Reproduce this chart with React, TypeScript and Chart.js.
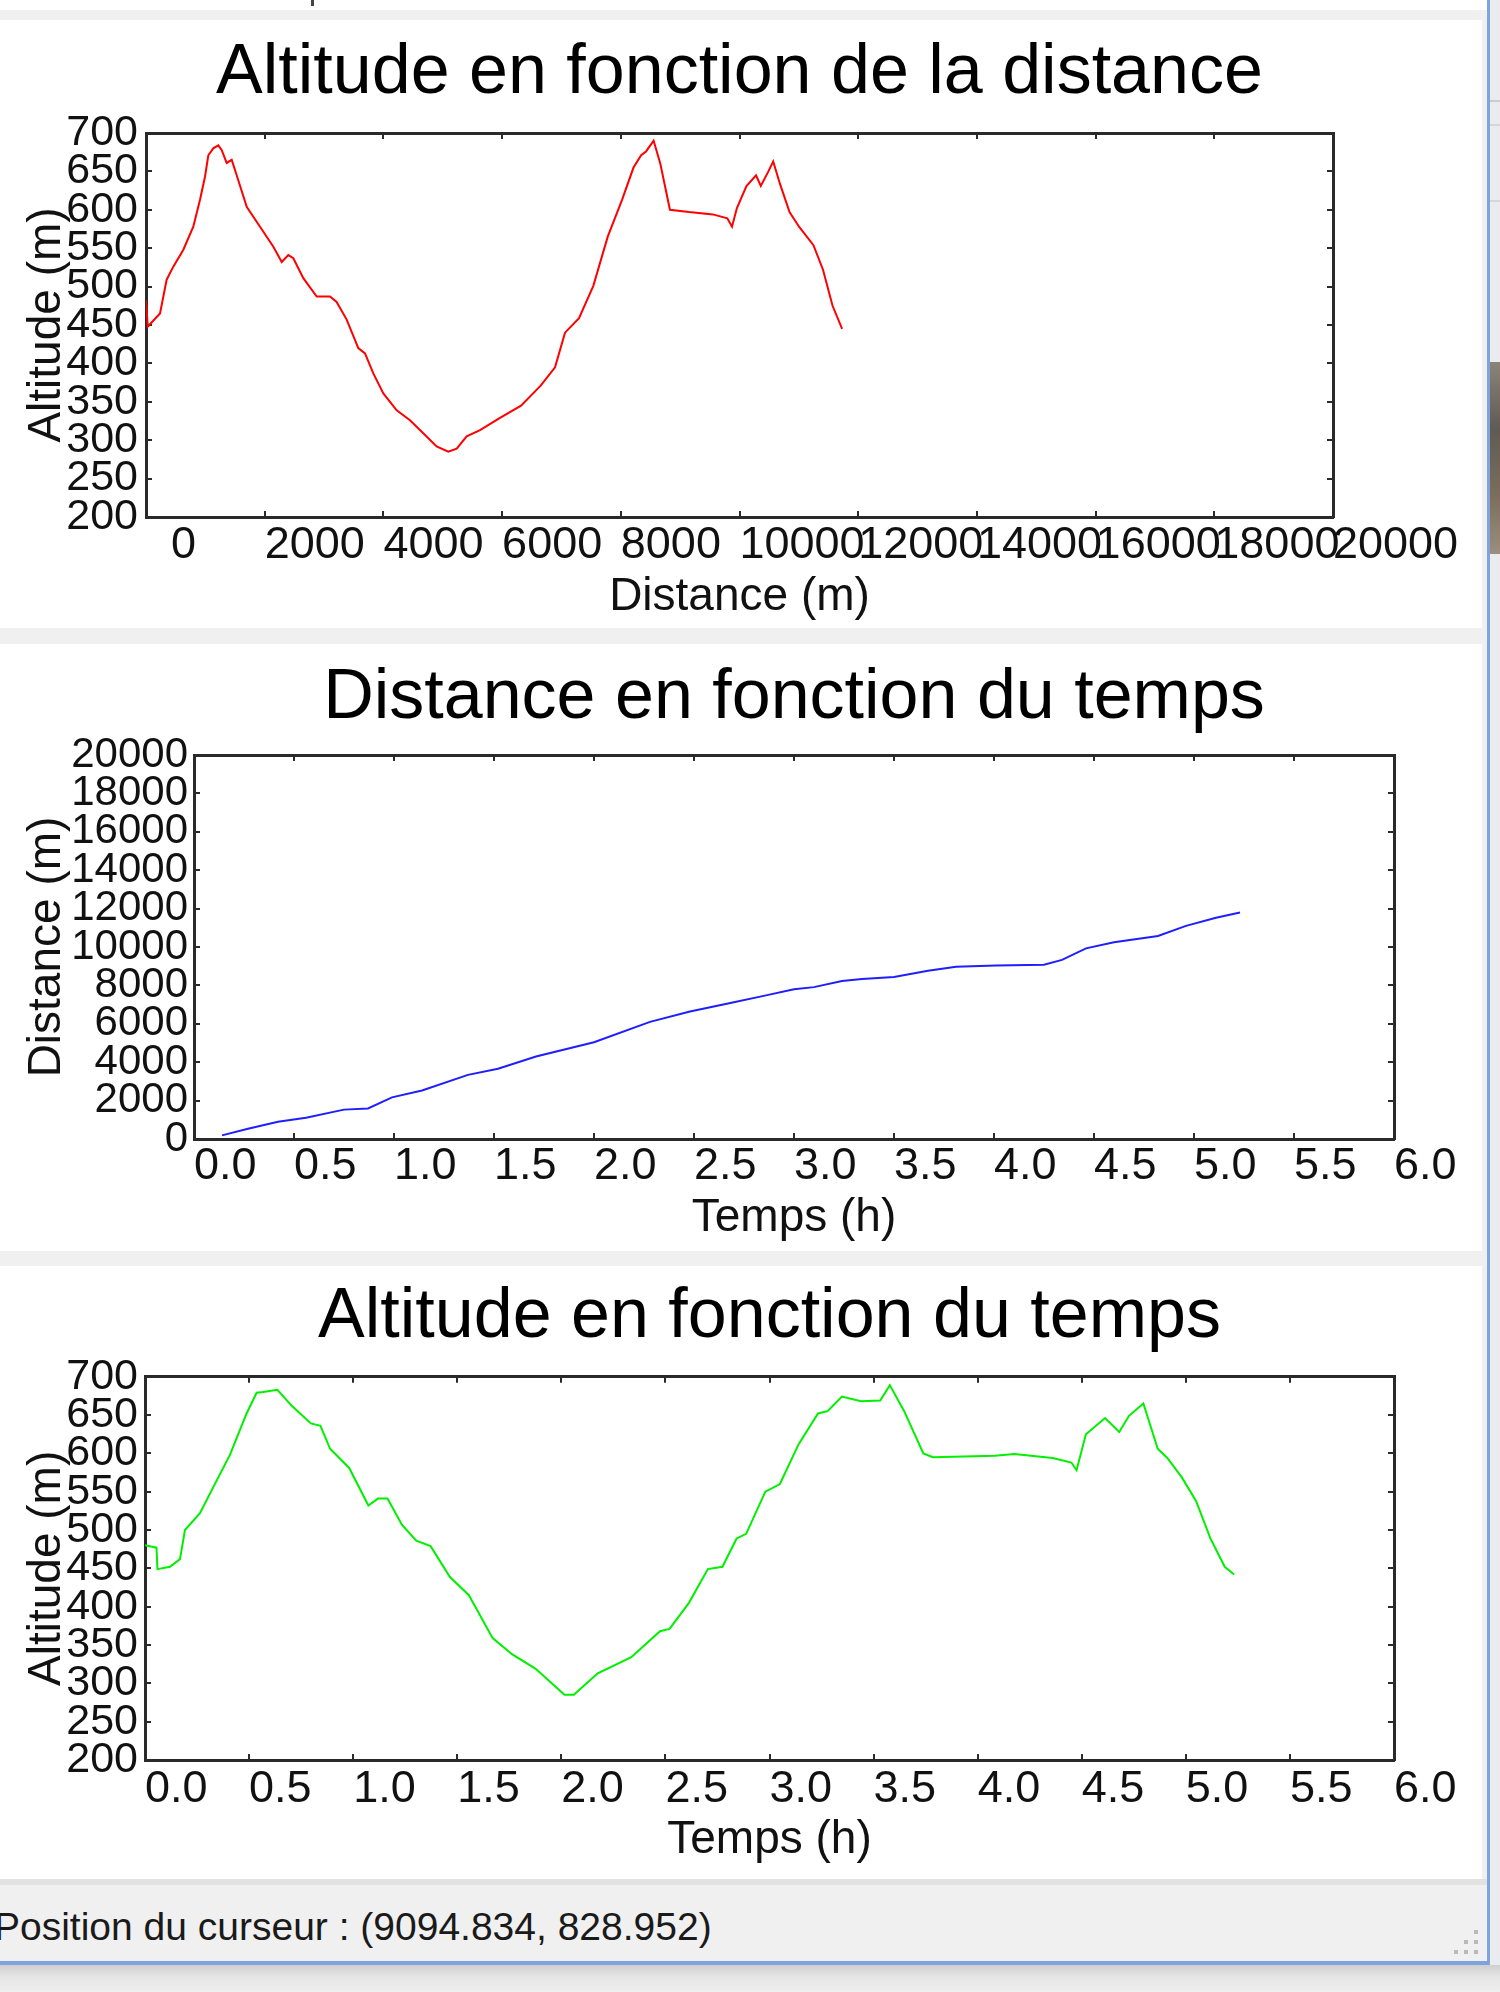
import React, { useEffect, useRef } from 'react';
import { Chart, registerables } from 'chart.js';

Chart.register(...registerables);

// ---------------- DATA ----------------
// Chart 1: altitude (m) as a function of distance (m)
const altitudeByDistance: [number, number][] = [
  [0, 482], [30, 448], [236, 465], [348, 509], [460, 526], [629, 548], [797, 578], [910, 613],
  [994, 643], [1050, 671], [1134, 680], [1218, 684], [1275, 678], [1359, 661], [1444, 665],
  [1528, 645], [1697, 604], [1921, 578], [2146, 552], [2287, 532], [2398, 541], [2482, 537],
  [2651, 511], [2876, 487], [3100, 487], [3212, 480], [3381, 457], [3577, 420], [3690, 413],
  [3830, 387], [3999, 361], [4224, 339], [4448, 326], [4672, 309], [4897, 292], [5093, 285],
  [5235, 289], [5403, 305], [5628, 313], [5965, 329], [6319, 345], [6650, 371], [6892, 395],
  [7060, 440], [7296, 459], [7537, 501], [7780, 565], [8021, 613], [8214, 655], [8343, 671],
  [8425, 676], [8553, 690], [8666, 660], [8828, 600], [9150, 597], [9552, 594], [9795, 589],
  [9874, 578], [9955, 602], [10117, 631], [10279, 645], [10359, 631], [10487, 650], [10568, 663],
  [10681, 634], [10843, 597], [11003, 578], [11246, 554], [11407, 522], [11568, 475], [11729, 445],
];

// Chart 2: distance (m) as a function of time (h)
const distanceByTime: [number, number][] = [
  [0.14, 190], [0.27, 530], [0.42, 900], [0.56, 1110], [0.75, 1530], [0.87, 1590], [0.99, 2170],
  [1.14, 2530], [1.37, 3340], [1.52, 3660], [1.71, 4300], [2.0, 5040], [2.28, 6100], [2.48, 6640],
  [2.67, 7060], [2.86, 7480], [3.0, 7800], [3.1, 7910], [3.24, 8230], [3.34, 8330], [3.5, 8440],
  [3.67, 8760], [3.81, 8970], [4.01, 9040], [4.25, 9080], [4.34, 9330], [4.46, 9930], [4.6, 10250],
  [4.82, 10570], [4.96, 11100], [5.11, 11520], [5.23, 11800],
];

// Chart 3: altitude (m) as a function of time (h)
const altitudeByTime: [number, number][] = [
  [0, 480], [0.055, 477], [0.06, 449], [0.12, 452], [0.168, 462], [0.192, 500], [0.264, 522],
  [0.328, 556], [0.408, 598], [0.488, 652], [0.536, 679], [0.568, 680], [0.636, 683], [0.705, 662],
  [0.797, 639], [0.843, 636], [0.889, 606], [0.981, 581], [1.073, 532], [1.119, 541], [1.165, 541],
  [1.234, 507], [1.303, 486], [1.372, 479], [1.464, 439], [1.556, 415], [1.67, 359], [1.763, 338],
  [1.877, 319], [2.015, 285], [2.06, 285], [2.175, 313], [2.336, 334], [2.474, 368], [2.52, 371],
  [2.613, 405], [2.704, 449], [2.774, 452], [2.842, 489], [2.888, 495], [2.98, 550], [3.05, 560],
  [3.14, 612], [3.233, 652], [3.279, 655], [3.348, 674], [3.44, 668], [3.532, 669], [3.578, 689],
  [3.647, 655], [3.739, 600], [3.785, 595], [4.083, 597], [4.176, 599], [4.36, 594], [4.45, 588],
  [4.475, 578], [4.52, 625], [4.612, 646], [4.68, 628], [4.727, 649], [4.796, 665], [4.865, 606],
  [4.911, 594], [4.98, 569], [5.049, 538], [5.118, 489], [5.187, 452], [5.232, 442],
];

// Axis ranges and tick steps
const distanceAxis = { min: 0, max: 20000, step: 2000 };
const altitudeAxis = { min: 200, max: 700, step: 50 };
const timeAxis = { min: 0, max: 6, step: 0.5 };

const titles = [
  'Altitude en fonction de la distance',
  'Distance en fonction du temps',
  'Altitude en fonction du temps',
];
const statusText = 'Position du curseur : (9094.834, 828.952)';

// ---------------- STYLE / LAYOUT ----------------
const FONT = "'Liberation Sans', Arial, Helvetica, sans-serif";
const FRAME = '#2a2a2a';
const TEXT = '#111111';
const CANVAS_W = 1482;

type AxisSpec = {
  range: { min: number; max: number; step: number };
  fmt: (v: number) => string;
  title: string;
  tickPad: number;
  size: number; // width for y, height for x
  font: number;
  titlePad: number;
};

type PanelSpec = {
  title: string;
  titlePad: { top: number; bottom: number };
  points: [number, number][];
  color: string;
  x: AxisSpec;
  y: AxisSpec;
  pad: { left: number; right: number; bottom: number };
  top: number;
  height: number;
};

const panels: PanelSpec[] = [
  {
    title: titles[0],
    titlePad: { top: 11.3, bottom: 17.7 },
    points: altitudeByDistance,
    color: 'rgb(255,0,0)',
    x: { range: distanceAxis, fmt: (v) => (v === 0 ? '  0' : String(v)), title: 'Distance (m)', tickPad: 7.5, size: 109, font: 45, titlePad: 0.6 },
    y: { range: altitudeAxis, fmt: (v) => String(v), title: 'Altitude (m)', tickPad: 14, size: 140, font: 43, titlePad: 14 },
    pad: { left: 6, right: CANVAS_W - 1333, bottom: 2 },
    top: 20,
    height: 608,
  },
  {
    title: titles[1],
    titlePad: { top: 13.2, bottom: 13.8 },
    points: distanceByTime,
    color: 'rgb(30,30,255)',
    x: { range: timeAxis, fmt: (v) => v.toFixed(1), title: 'Temps (h)', tickPad: 7, size: 108, font: 45, titlePad: 1 },
    y: { range: distanceAxis, fmt: (v) => String(v), title: 'Distance (m)', tickPad: 12, size: 190, font: 42, titlePad: 16 },
    pad: { left: 4, right: CANVAS_W - 1394, bottom: 4 },
    top: 644,
    height: 607,
  },
  {
    title: titles[2],
    titlePad: { top: 10.2, bottom: 16.5 },
    points: altitudeByTime,
    color: 'rgb(0,240,0)',
    x: { range: timeAxis, fmt: (v) => v.toFixed(1), title: 'Temps (h)', tickPad: 9, size: 109, font: 45, titlePad: 1.5 },
    y: { range: altitudeAxis, fmt: (v) => String(v), title: 'Altitude (m)', tickPad: 13, size: 140, font: 43, titlePad: 15 },
    pad: { left: 5, right: CANVAS_W - 1394, bottom: 10 },
    top: 1266,
    height: 613,
  },
];

function buildConfig(s: PanelSpec): any {
  const grid = { drawOnChartArea: false, drawTicks: true, tickLength: -6, color: FRAME, lineWidth: 2 };
  const border = { display: true, color: FRAME, width: 3 };
  return {
    type: 'line',
    data: {
      datasets: [
        {
          data: s.points.map(([x, y]) => ({ x, y })),
          borderColor: s.color,
          backgroundColor: s.color,
          borderWidth: 2,
          pointRadius: 0,
          tension: 0,
          fill: false,
          xAxisID: 'x',
          yAxisID: 'y',
        },
      ],
    },
    options: {
      animation: false,
      responsive: false,
      devicePixelRatio: 1,
      events: [],
      layout: { padding: { left: s.pad.left, right: s.pad.right, top: 0, bottom: s.pad.bottom } },
      plugins: {
        legend: { display: false },
        tooltip: { enabled: false },
        title: {
          display: true,
          text: s.title,
          fullSize: false,
          color: '#000',
          font: { family: FONT, size: 70, weight: 'normal', lineHeight: 1.2 },
          padding: { top: s.titlePad.top, bottom: s.titlePad.bottom },
        },
      },
      scales: {
        x: {
          type: 'linear',
          position: 'bottom',
          min: s.x.range.min,
          max: s.x.range.max,
          ticks: {
            stepSize: s.x.range.step,
            align: 'start',
            padding: s.x.tickPad,
            autoSkip: false,
            minRotation: 0,
            maxRotation: 0,
            color: TEXT,
            font: { family: FONT, size: s.x.font, lineHeight: 1.2 },
            callback: (v: number) => s.x.fmt(v),
          },
          grid,
          border,
          title: {
            display: true,
            text: s.x.title,
            color: TEXT,
            font: { family: FONT, size: 46, lineHeight: 1.2 },
            padding: { top: 0, bottom: s.x.titlePad },
          },
          afterFit: (sc: any) => { sc.height = s.x.size; },
        },
        y: {
          type: 'linear',
          position: 'left',
          min: s.y.range.min,
          max: s.y.range.max,
          ticks: {
            stepSize: s.y.range.step,
            padding: s.y.tickPad,
            autoSkip: false,
            color: TEXT,
            font: { family: FONT, size: s.y.font, lineHeight: 1.2 },
            callback: (v: number) => s.y.fmt(v),
          },
          grid,
          border,
          title: {
            display: true,
            text: s.y.title,
            color: TEXT,
            font: { family: FONT, size: 46, lineHeight: 1.2 },
            padding: { top: s.y.titlePad, bottom: 0 },
          },
          afterFit: (sc: any) => { sc.width = s.y.size; },
        },
        x2: {
          type: 'linear',
          position: 'top',
          min: s.x.range.min,
          max: s.x.range.max,
          ticks: { display: false, stepSize: s.x.range.step },
          grid,
          border,
          afterFit: (sc: any) => { sc.height = 0; },
        },
        y2: {
          type: 'linear',
          position: 'right',
          min: s.y.range.min,
          max: s.y.range.max,
          ticks: { display: false, stepSize: s.y.range.step },
          grid,
          border,
          afterFit: (sc: any) => { sc.width = 0; },
        },
      },
    },
  };
}

function PlotCanvas({ spec }: { spec: PanelSpec }) {
  const ref = useRef<HTMLCanvasElement | null>(null);
  useEffect(() => {
    if (!ref.current) return;
    const chart = new Chart(ref.current, buildConfig(spec));
    return () => chart.destroy();
  }, [spec]);
  return (
    <canvas
      ref={ref}
      width={CANVAS_W}
      height={spec.height}
      style={{ position: 'absolute', left: 0, top: spec.top, width: CANVAS_W, height: spec.height, display: 'block' }}
    />
  );
}

const abs = (left: number, top: number, width: number, height: number, extra: React.CSSProperties = {}): React.CSSProperties => ({
  position: 'absolute', left, top, width, height, ...extra,
});

export default function App() {
  return (
    <div style={abs(0, 0, 1500, 1992, { background: '#f0f0f0', overflow: 'hidden', fontFamily: FONT })}>
      {/* right-hand background beyond the window */}
      <div style={abs(1490, 0, 10, 1992, { background: '#e9ebee' })} />
      <div style={abs(1490, 100, 10, 2, { background: '#c9ccd1' })} />
      <div style={abs(1490, 124, 10, 2, { background: '#d3d6da' })} />
      <div style={abs(1490, 200, 10, 2, { background: '#d3d6da' })} />
      <div style={abs(1490, 362, 10, 192, { background: 'linear-gradient(180deg,#8a8479 0%,#5f5b55 35%,#7b6e5c 70%,#9a8f80 100%)' })} />
      {/* top strip */}
      <div style={abs(0, 0, 1487, 10, { background: '#ffffff' })} />
      <div style={abs(311, 0, 3, 6, { background: '#444' })} />
      {/* white panels */}
      <div style={abs(0, 20, 1482, 608, { background: '#ffffff' })} />
      <div style={abs(0, 644, 1482, 607, { background: '#ffffff' })} />
      <div style={abs(0, 1266, 1482, 613, { background: '#ffffff' })} />
      {/* status bar */}
      <div style={abs(0, 1879, 1487, 6, { background: '#e2e2e2' })} />
      <div style={abs(0, 1885, 1487, 76, { background: '#f0f0f0' })} />
      <div
        style={abs(-6, 1905, 900, 44, {
          fontSize: 39,
          lineHeight: '44px',
          color: '#1a1a1a',
          whiteSpace: 'nowrap',
        })}
      >
        {statusText}
      </div>
      {/* resize grip */}
      {[[1474, 1930], [1474, 1940], [1464, 1940], [1474, 1950], [1464, 1950], [1454, 1950]].map(([x, y], i) => (
        <div key={i} style={abs(x, y, 4, 4, { background: '#b9b9b9' })} />
      ))}
      {/* window border and shadow */}
      <div style={abs(1487, 0, 3, 1965, { background: '#7fa3dc' })} />
      <div style={abs(0, 1961, 1490, 4, { background: '#7fa3dc' })} />
      <div style={abs(0, 1965, 1500, 27, { background: 'linear-gradient(180deg,#cfcfcf 0%,#e4e4e4 40%,#efefef 100%)' })} />
      {panels.map((p, i) => (
        <PlotCanvas key={i} spec={p} />
      ))}
    </div>
  );
}
